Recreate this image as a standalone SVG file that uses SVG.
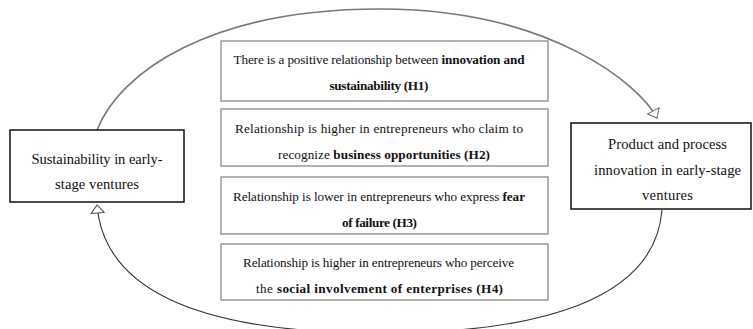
<svg xmlns="http://www.w3.org/2000/svg" width="753" height="329" viewBox="0 0 753 329">
<defs>
<marker id="arrG" markerUnits="userSpaceOnUse" markerWidth="20" markerHeight="20" refX="10" refY="10" orient="auto" overflow="visible">
<path d="M10,10 L2,3.5 L2,16.5 Z" fill="#fff" stroke="#666" stroke-width="1"/>
</marker>
<marker id="arrD" markerUnits="userSpaceOnUse" markerWidth="20" markerHeight="20" refX="10" refY="10" orient="auto" overflow="visible">
<path d="M10,10 L2,3.5 L2,16.5 Z" fill="#fff" stroke="#444" stroke-width="1"/>
</marker>
</defs>
<style>
text{font-family:"Liberation Serif","Times New Roman",serif;font-size:14.6px;fill:#111;text-anchor:middle}
text.h{font-size:13.2px}
.b{font-weight:bold}
.main{fill:#fff;stroke:#111;stroke-width:1.5}
.hyp{fill:#fff;stroke:#999;stroke-width:1.5}
</style>
<rect width="753" height="329" fill="#fff"/>
<g id="connectors" fill="none">
<path d="M97,130 C120,72 210,9 380,9 C550,9 640,85 657,118" stroke="#777" stroke-width="1.6" marker-end="url(#arrG)"/>
<path d="M662,210 C655,300 540,333 380,333 C220,333 105,300 97,205" stroke="#333" stroke-width="1.1" marker-end="url(#arrD)"/>
</g>
<g id="sustainability">
<rect class="main" x="10" y="130" width="174" height="72"/>
<text x="97" y="164" textLength="131">Sustainability in early-</text>
<text x="97" y="189" textLength="84">stage ventures</text>
</g>
<g id="innovation">
<rect class="main" x="571" y="123" width="180" height="86"/>
<text x="667.5" y="149" textLength="119">Product and process</text>
<text x="667.5" y="175" textLength="147">innovation in early-stage</text>
<text x="667.5" y="200" textLength="51">ventures</text>
</g>
<g id="h1">
<rect class="hyp" x="221" y="41" width="327" height="60"/>
<text class="h" x="379" y="64" textLength="291">There is a positive relationship between <tspan class="b">innovation and</tspan></text>
<text class="h b" x="379" y="90" textLength="99">sustainability (H1)</text>
</g>
<g id="h2">
<rect class="hyp" x="221" y="109" width="327" height="57"/>
<text class="h" x="379" y="133" textLength="288">Relationship is higher in entrepreneurs who claim to</text>
<text class="h" x="384" y="159" textLength="212">recognize <tspan class="b">business opportunities (H2)</tspan></text>
</g>
<g id="h3">
<rect class="hyp" x="221" y="177" width="327" height="57"/>
<text class="h" x="379" y="201" textLength="292">Relationship is lower in entrepreneurs who express <tspan class="b">fear</tspan></text>
<text class="h b" x="379.5" y="227" textLength="75">of failure (H3)</text>
</g>
<g id="h4">
<rect class="hyp" x="221" y="244" width="327" height="56"/>
<text class="h" x="378.5" y="267" textLength="271">Relationship is higher in entrepreneurs who perceive</text>
<text class="h" x="379.5" y="293" textLength="247">the <tspan class="b">social involvement of enterprises (H4)</tspan></text>
</g>
</svg>
